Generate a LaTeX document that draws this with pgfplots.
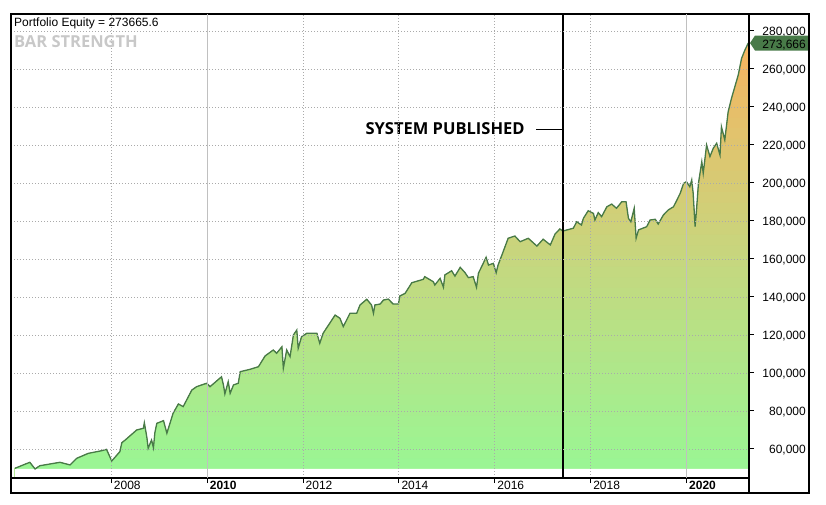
\documentclass[border=0pt]{standalone}
\usepackage{fontspec}
\setmainfont{Liberation Sans}
\newfontfamily\opensans{Open Sans}
\usepackage{pgfplots}
\pgfplotsset{compat=1.18}
\usepackage{pgfplotstable}
\usetikzlibrary{calc}

\definecolor{eqline}{RGB}{72,122,72}
\definecolor{gridc}{RGB}{170,170,170}
\definecolor{gridsolid}{RGB}{192,192,192}
\definecolor{fillbot}{RGB}{154,246,148}
\definecolor{fillmid}{RGB}{199,214,126}
\definecolor{filltop}{RGB}{246,180,96}
\definecolor{tagc}{RGB}{72,122,72}
\definecolor{barstr}{RGB}{200,200,200}

\pgfplotstableread{
x y
2005.99 49840
2006.30 53000
2006.41 49500
2006.51 51200
2006.93 53000
2007.14 51600
2007.28 55100
2007.52 57700
2007.80 59100
2007.90 59800
2008.01 53700
2008.18 58600
2008.22 63300
2008.29 64700
2008.53 70000
2008.67 70900
2008.69 73800
2008.74 66500
2008.77 60400
2008.84 64700
2008.88 60700
2008.91 68600
2008.95 73500
2009.09 74900
2009.16 68300
2009.29 78800
2009.40 83700
2009.50 82300
2009.68 91000
2009.78 92800
2009.99 94600
2010.06 92800
2010.30 98000
2010.34 93700
2010.37 89000
2010.44 95400
2010.48 89300
2010.55 93700
2010.65 94600
2010.69 100700
2010.89 101900
2011.07 103300
2011.21 109000
2011.38 112100
2011.45 110400
2011.56 113800
2011.59 102500
2011.66 112100
2011.73 108600
2011.80 120000
2011.87 122600
2011.90 113000
2011.97 119100
2012.08 120900
2012.29 120900
2012.35 115600
2012.42 120900
2012.67 130500
2012.77 128800
2012.84 124400
2012.98 131400
2013.12 131400
2013.19 135800
2013.33 138800
2013.43 135800
2013.47 131400
2013.50 135800
2013.61 136300
2013.68 138400
2013.78 138900
2013.88 136300
2013.99 136300
2014.02 140500
2014.13 141900
2014.27 147500
2014.51 149300
2014.54 150700
2014.72 148000
2014.75 146300
2014.86 149800
2014.93 145100
2014.96 151600
2015.10 153800
2015.17 151000
2015.28 155600
2015.38 152800
2015.45 150200
2015.55 150700
2015.62 145100
2015.66 152500
2015.76 157700
2015.82 160900
2015.87 156800
2015.97 157700
2016.03 152800
2016.07 156800
2016.15 162100
2016.28 170900
2016.42 172100
2016.53 169100
2016.70 170900
2016.88 166800
2017.01 170400
2017.16 167400
2017.26 173200
2017.36 175800
2017.42 174700
2017.64 176200
2017.71 179600
2017.81 177900
2017.85 181400
2017.95 185400
2018.06 184000
2018.09 180500
2018.16 184400
2018.23 182300
2018.34 187500
2018.44 188900
2018.54 186700
2018.65 190100
2018.74 190100
2018.79 181400
2018.84 179600
2018.91 186700
2018.95 170900
2019.00 175300
2019.17 177000
2019.24 180500
2019.35 180900
2019.41 178400
2019.52 183200
2019.62 185800
2019.73 187500
2019.80 191000
2019.87 194600
2019.94 199800
2020.00 200700
2020.07 198000
2020.11 201600
2020.14 194600
2020.18 177000
2020.21 185800
2020.25 199800
2020.32 211200
2020.35 205100
2020.42 220000
2020.49 213900
2020.56 218300
2020.63 220900
2020.70 214700
2020.73 229600
2020.80 222600
2020.87 237500
2020.94 244600
2021.01 250700
2021.08 256800
2021.15 265600
2021.22 270000
2021.29 273666
}\equity

\begin{document}
\begin{tikzpicture}
\begin{axis}[
  scale only axis, width=738bp, height=464bp,
  xmin=2005.908, xmax=2021.305, ymin=44737, ymax=288940,
  axis line style={line width=1.3bp},
  axis on top,
  no markers,
  font=\fontsize{12bp}{14bp}\selectfont,
  /pgf/number format/assume math mode=true,
  xtick={2008,2012,2014,2016,2018},
  extra x ticks={2010,2020},
  extra x tick labels={\textbf{2010},\textbf{2020}},
  extra x tick style={xmajorgrids=true, major grid style={solid, gridsolid, line width=1bp}},
  xtick pos=bottom, ytick pos=right,
  tick align=outside, major tick length=5bp,
  tick style={black, line width=1bp},
  xmajorgrids, ymajorgrids,
  major grid style={gridc, line width=0.8bp, dash pattern=on 1bp off 2bp},
  ytick={60000,80000,100000,120000,140000,160000,180000,200000,220000,240000,260000,280000},
  scaled y ticks=false,
  xticklabel style={anchor=north west, inner sep=0pt, xshift=2.5bp, yshift=2.3bp,
    /pgf/number format/1000 sep={}},
  yticklabel style={anchor=base east, inner sep=0pt, xshift=52bp, yshift=-4.3bp,
    /pgf/number format/fixed, /pgf/number format/1000 sep={,}},
]
% gradient fill: bands painted from top down, each capped at its upper level
\pgfplotsinvokeforeach{39,38,...,20}{
  \edef\tmp{\noexpand\colorlet{band#1}{filltop!\the\numexpr5*#1-98\relax!fillmid}}\tmp
  \edef\tmp{\noexpand\addplot[draw=none, fill=band#1]
    table[y expr={min(\noexpand\thisrow{y},\the\numexpr49474+5605*#1+5605\relax)}] {\noexpand\equity}
    \noexpand\closedcycle;}\tmp
}
\pgfplotsinvokeforeach{19,18,...,0}{
  \edef\tmp{\noexpand\colorlet{band#1}{fillmid!\the\numexpr5*#1+2\relax!fillbot}}\tmp
  \edef\tmp{\noexpand\addplot[draw=none, fill=band#1]
    table[y expr={min(\noexpand\thisrow{y},\the\numexpr49474+5605*#1+5605\relax)}] {\noexpand\equity}
    \noexpand\closedcycle;}\tmp
}
\addplot[draw=none, fill=white] table[y expr={min(\thisrow{y},49474)}] {\equity} \closedcycle;
\addplot[eqline, line width=1.3bp] table {\equity};
\draw[black, line width=2bp] (axis cs:2017.42,44737) -- (axis cs:2017.42,288940);
\draw[black, line width=1.5bp] (axis cs:2017.42,228260) -- ++(-27bp,0bp);
\node[anchor=base east, inner sep=0pt, font=\opensans\bfseries\fontsize{16.5bp}{18bp}\selectfont]
  at ($(axis cs:2017.42,228260)+(-38bp,-5.7bp)$) {SYSTEM PUBLISHED};
\coordinate (tagpt) at (axis cs:2021.305,273666);
\end{axis}
\node[anchor=base west, inner sep=0pt, font=\fontsize{12bp}{14bp}\selectfont]
  at ($(current axis.north west)+(3bp,-13bp)$) {Portfolio Equity = 273665.6};
\node[anchor=base west, inner sep=0pt, text=barstr, font=\opensans\bfseries\fontsize{16.5bp}{18bp}\selectfont]
  at ($(current axis.north west)+(3bp,-34bp)$) {BAR STRENGTH};
\fill[tagc] ($(tagpt)+(1bp,0)$) -- ++(5bp,7.5bp) -- ++(54bp,0) -- ++(0,-15bp) -- ++(-54bp,0) -- cycle;
\node[anchor=base east, inner sep=0pt, font=\fontsize{12bp}{14bp}\selectfont]
  at ($(tagpt)+(57bp,-5.2bp)$) {273,666};
\draw[line width=1.3bp] (current axis.south west) -- ++(0,-15bp) -- ($(current axis.south east)+(60bp,-15bp)$)
  -- ($(current axis.north east)+(60bp,0)$) -- (current axis.north east);
\draw[line width=1.3bp] (current axis.south east) -- ++(0,-15bp);
\pgfresetboundingbox
\path ($(current axis.south west)+(-11bp,-27bp)$) rectangle ($(current axis.north east)+(77bp,14bp)$);
\end{tikzpicture}
\end{document}
